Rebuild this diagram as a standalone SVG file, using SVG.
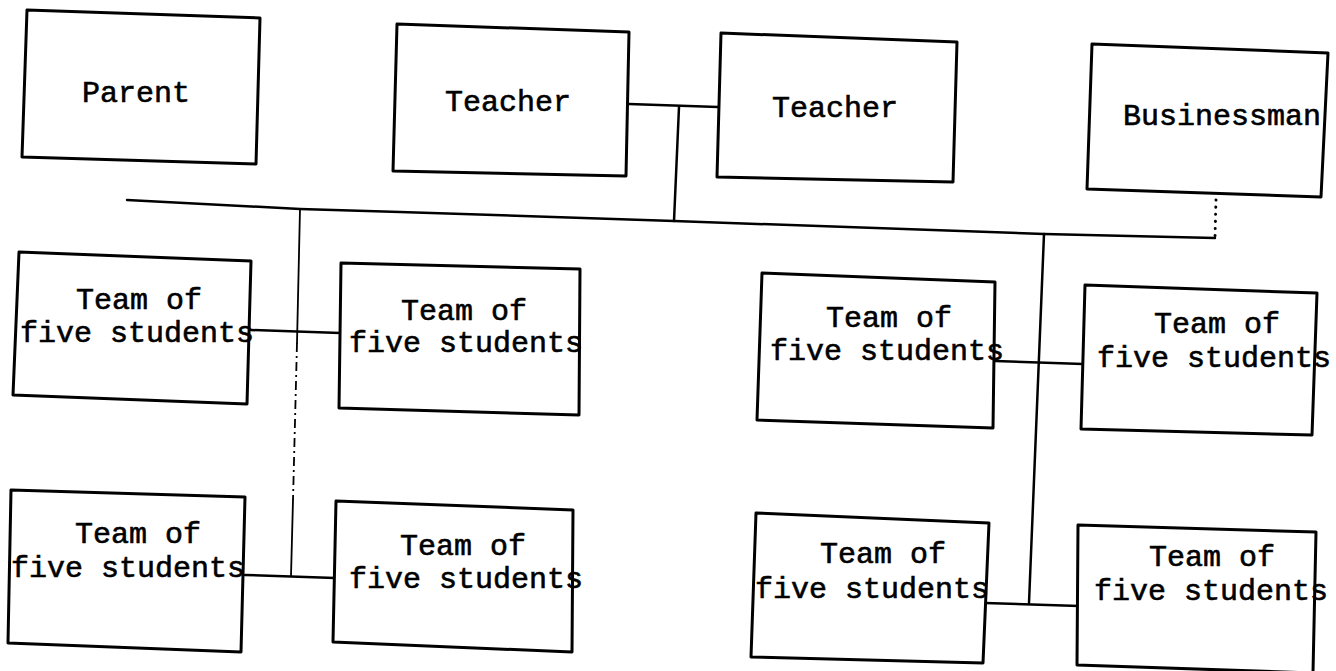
<svg xmlns="http://www.w3.org/2000/svg" width="1336" height="671" viewBox="0 0 1336 671">
  <style>
    .box { fill: #ffffff; stroke: #000000; stroke-width: 3; stroke-linejoin: round; }
    .lbl { font-family: "Liberation Mono", "DejaVu Sans Mono", monospace; font-size: 30px; fill: #000000; stroke: #000000; stroke-width: 0.6; text-anchor: middle; }
    .wire { fill: none; stroke: #000000; stroke-width: 2.5; stroke-linecap: round; }
    .thin { fill: none; stroke: #000000; stroke-width: 1.8; stroke-linecap: round; }
    .dash { fill: none; stroke: #000000; stroke-width: 1.8; stroke-dasharray: 9 4 2 4; }
    .dots { fill: none; stroke: #000000; stroke-width: 3; stroke-linecap: round; stroke-dasharray: 0.1 7; }
  </style>
  <rect width="1336" height="671" fill="#ffffff"/>

  <!-- connectors -->
  <g id="connectors">
    <!-- teacher to teacher, then down to the main bus -->
    <polyline class="wire" points="629,104 718,107"/>
    <polyline class="wire" points="679,107 674,221"/>
    <!-- main horizontal bus -->
    <polyline class="wire" points="127,200 300,209 400,212 674,221 1044,234 1215,238"/>
    <!-- businessman dotted link -->
    <polyline class="dots" points="1216,200 1215,238"/>
    <!-- left trunk: solid, broken middle, solid -->
    <polyline class="thin" points="300,209 297,343"/>
    <polyline class="dash" points="297,343 293,500"/>
    <polyline class="thin" points="293,500 291,576"/>
    <!-- right trunk -->
    <polyline class="wire" points="1044,234 1029,603"/>
    <!-- team pair links -->
    <polyline class="wire" points="251,330 340,333"/>
    <polyline class="wire" points="245,575 335,578"/>
    <polyline class="wire" points="995,361 1083,364"/>
    <polyline class="wire" points="985,603 1079,606"/>
  </g>

  <g id="parent">
    <polygon class="box" points="27,10 260,18 256,164 22,157"/>
    <text class="lbl" x="136" y="102">Parent</text>
  </g>
  <g id="teacher-1">
    <polygon class="box" points="397,24 629,32 626,176 393,171"/>
    <text class="lbl" x="508" y="111">Teacher</text>
  </g>
  <g id="teacher-2">
    <polygon class="box" points="721,33 957,42 953,182 717,177"/>
    <text class="lbl" x="835" y="117">Teacher</text>
  </g>
  <g id="businessman">
    <polygon class="box" points="1092,44 1328,53 1321,197 1087,189"/>
    <text class="lbl" x="1222" y="125">Businessman</text>
  </g>

  <g id="team-a">
    <polygon class="box" points="19,252 251,261 247,404 13,395"/>
    <text class="lbl" x="139" y="309">Team of</text>
    <text class="lbl" x="137" y="342">five students</text>
  </g>
  <g id="team-b">
    <polygon class="box" points="341,263 580,269 579,415 339,408"/>
    <text class="lbl" x="464" y="320">Team of</text>
    <text class="lbl" x="466" y="352">five students</text>
  </g>
  <g id="team-c">
    <polygon class="box" points="762,273 995,282 993,428 757,420"/>
    <text class="lbl" x="889" y="327">Team of</text>
    <text class="lbl" x="887" y="360">five students</text>
  </g>
  <g id="team-d">
    <polygon class="box" points="1085,285 1317,293 1312,435 1081,429"/>
    <text class="lbl" x="1217" y="333">Team of</text>
    <text class="lbl" x="1214" y="367">five students</text>
  </g>
  <g id="team-e">
    <polygon class="box" points="11,490 245,497 241,652 8,643"/>
    <text class="lbl" x="138" y="543">Team of</text>
    <text class="lbl" x="128" y="577">five students</text>
  </g>
  <g id="team-f">
    <polygon class="box" points="336,501 573,510 572,652 333,642"/>
    <text class="lbl" x="463" y="555">Team of</text>
    <text class="lbl" x="466" y="588">five students</text>
  </g>
  <g id="team-g">
    <polygon class="box" points="756,513 989,523 983,663 751,657"/>
    <text class="lbl" x="883" y="563">Team of</text>
    <text class="lbl" x="872" y="598">five students</text>
  </g>
  <g id="team-h">
    <polygon class="box" points="1078,525 1316,532 1313,673 1077,665"/>
    <text class="lbl" x="1212" y="566">Team of</text>
    <text class="lbl" x="1211" y="600">five students</text>
  </g>
</svg>
